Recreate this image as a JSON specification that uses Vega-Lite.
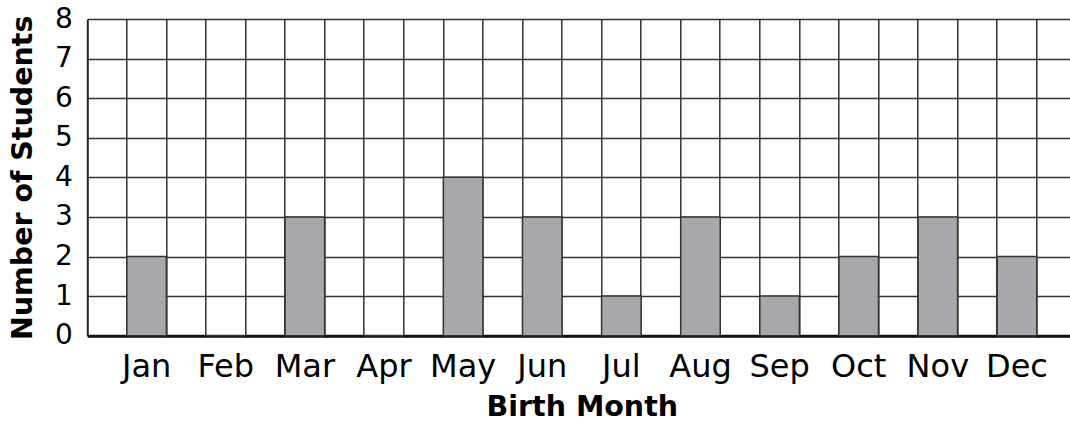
{
  "$schema": "https://vega.github.io/schema/vega-lite/v6.json",
  "autosize": "none",
  "width": 982.7,
  "height": 316.7,
  "padding": {"left": 87.3, "top": 19, "right": 0, "bottom": 89.3},
  "background": "white",
  "config": {
    "font": "DejaVu Sans",
    "view": {"stroke": null}
  },
  "data": {
    "values": [
      {"month": "Jan", "students": 2},
      {"month": "Feb", "students": 0},
      {"month": "Mar", "students": 3},
      {"month": "Apr", "students": 0},
      {"month": "May", "students": 4},
      {"month": "Jun", "students": 3},
      {"month": "Jul", "students": 1},
      {"month": "Aug", "students": 3},
      {"month": "Sep", "students": 1},
      {"month": "Oct", "students": 2},
      {"month": "Nov", "students": 3},
      {"month": "Dec", "students": 2}
    ]
  },
  "encoding": {
    "x": {
      "field": "month",
      "type": "nominal",
      "sort": null,
      "scale": {"type": "band", "paddingInner": 0, "paddingOuter": 0.25, "range": [0, 989]}
    },
    "y": {
      "field": "students",
      "type": "quantitative",
      "scale": {"domain": [0, 8], "nice": false, "zero": true},
      "axis": {
        "values": [0, 1, 2, 3, 4, 5, 6, 7, 8],
        "grid": true,
        "gridColor": "#333333",
        "gridWidth": 1.5,
        "gridOpacity": 1,
        "domain": true,
        "domainColor": "#222222",
        "domainWidth": 2,
        "ticks": false,
        "labelFontSize": 28,
        "labelColor": "#000000",
        "labelPadding": 15,
        "labelFont": "DejaVu Sans",
        "title": "Number of Students",
        "titleFontSize": 28.5,
        "titleFontWeight": "bold",
        "titleColor": "#000000",
        "titleFont": "DejaVu Sans",
        "titlePadding": 17
      }
    }
  },
  "layer": [
    {
      "mark": {"type": "tick", "opacity": 0},
      "encoding": {
        "x": {
          "field": "month", "type": "nominal", "sort": null,
          "axis": {
            "orient": "top", "bandPosition": 0.25, "grid": true,
            "gridColor": "#333333", "gridWidth": 1.5, "gridOpacity": 1,
            "labels": false, "ticks": false, "domain": false, "title": null
          }
        }
      }
    },
    {
      "mark": {"type": "tick", "opacity": 0},
      "encoding": {
        "x": {
          "field": "month", "type": "nominal", "sort": null,
          "axis": {
            "orient": "top", "bandPosition": 0.75, "grid": true,
            "gridColor": "#333333", "gridWidth": 1.5, "gridOpacity": 1,
            "labels": false, "ticks": false, "domain": false, "title": null
          }
        }
      }
    },
    {
      "mark": {"type": "bar", "width": {"band": 0.5}, "fill": "#a7a8ab", "stroke": "#333333", "strokeWidth": 1.5},
      "encoding": {
        "x": {
          "field": "month", "type": "nominal", "sort": null,
          "axis": {
            "orient": "bottom", "grid": false, "ticks": false,
            "domain": true, "domainColor": "#111111", "domainWidth": 3,
            "labelAngle": 0, "labelFontSize": 32, "labelColor": "#000000",
            "labelFont": "DejaVu Sans", "labelPadding": 16,
            "title": "Birth Month", "titleFontSize": 28.5, "titleFontWeight": "bold",
            "titleColor": "#000000", "titleFont": "DejaVu Sans", "titlePadding": 10
          }
        }
      }
    }
  ],
  "resolve": {"axis": {"x": "independent"}}
}
